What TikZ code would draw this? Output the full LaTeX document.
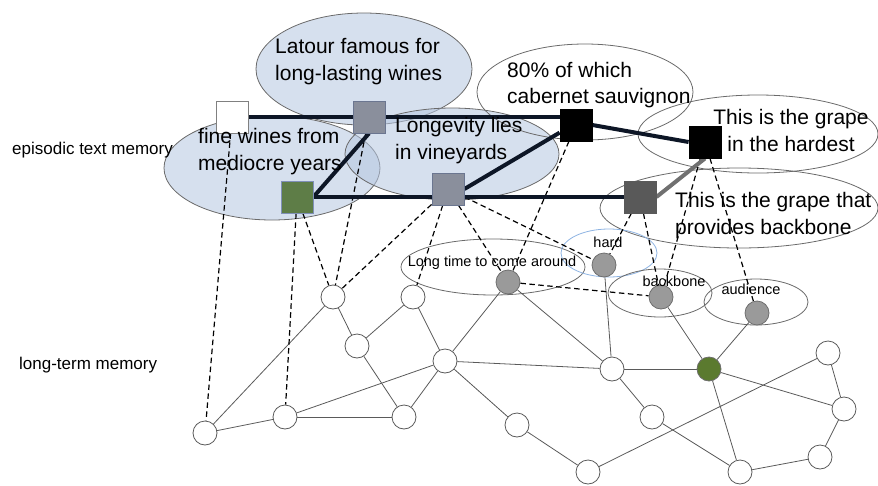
\documentclass[tikz,border=0pt]{standalone}
\usepackage{fontspec}
\setmainfont{Liberation Sans}
\definecolor{ellf}{HTML}{B5C6E0}
\definecolor{elb}{HTML}{6A6A6A}
\definecolor{thk}{HTML}{0D1626}
\definecolor{latf}{HTML}{8A8F9C}
\definecolor{latb}{HTML}{6B7690}
\definecolor{grnf}{HTML}{5E7D47}
\definecolor{grnb}{HTML}{8090B8}
\definecolor{bbsf}{HTML}{595959}
\definecolor{edgec}{HTML}{5A5A5A}
\definecolor{gcf}{HTML}{9A9A9A}
\definecolor{gcb}{HTML}{6E6E6E}
\definecolor{grcf}{HTML}{5B7A2F}
\definecolor{hardb}{HTML}{8DB3E2}
\definecolor{thkgray}{HTML}{707070}
\pgfdeclarelayer{bglayer}
\pgfdeclarelayer{edgelayer}
\pgfsetlayers{bglayer,edgelayer,main}
\begin{document}
\begin{tikzpicture}[x=1pt,y=-1pt,
  sq/.style={draw, minimum size=32pt, inner sep=0pt, line width=0.8pt},
  wc/.style={circle, draw=edgec, fill=white, minimum size=24pt, inner sep=0pt, line width=0.8pt},
  gc/.style={circle, draw=gcb, fill=gcf, minimum size=24pt, inner sep=0pt, line width=0.8pt},
  bigtxt/.style={font=\fontsize{21}{26.5}\selectfont, align=left, inner sep=0pt, anchor=west},
  smtxt/.style={font=\fontsize{14.5}{17}\selectfont, inner sep=0pt},
  sidetxt/.style={font=\fontsize{17}{20}\selectfont, inner sep=0pt, anchor=west},
  thk line/.style={line width=4pt, draw=thk},
  dsh/.style={dash pattern=on 5.5pt off 3.5pt, line width=1.2pt, draw=black},
  edge line/.style={line width=0.8pt, draw=edgec},
  fel/.style={draw=elb, line width=0.8pt, fill=ellf, fill opacity=0.55},
  oel/.style={draw=elb, line width=0.8pt}
]
\useasboundingbox (0,0) rectangle (878,485);

% ---- ellipses (background layer) ----
\begin{pgfonlayer}{bglayer}
\draw[fel] (364,69) ellipse [x radius=108, y radius=56];
\draw[fel] (272,168) ellipse [x radius=108, y radius=52];
\draw[fel] (452,154) ellipse [x radius=107, y radius=46];
\draw[oel] (585,92) ellipse [x radius=108, y radius=48];
\draw[oel] (758,134) ellipse [x radius=120, y radius=39];
\draw[oel] (739,208) ellipse [x radius=139, y radius=40];
\draw[oel] (493,267) ellipse [x radius=92, y radius=28];
\draw[draw=hardb, line width=0.8pt] (609,253) ellipse [x radius=48, y radius=24];
\draw[oel] (660,293) ellipse [x radius=52, y radius=24];
\draw[oel] (756,302) ellipse [x radius=52, y radius=23];
\end{pgfonlayer}

% ---- long-term memory nodes ----
\node[wc] (A) at (333,297) {};
\node[wc] (B) at (413,297) {};
\node[wc] (C) at (357,346) {};
\node[wc] (D) at (445,361) {};
\node[wc] (E) at (285,417) {};
\node[wc] (F) at (404,417) {};
\node[wc] (G) at (205,433) {};
\node[wc] (I) at (612,369) {};
\node[wc] (K) at (517,425) {};
\node[wc] (L) at (652,417) {};
\node[wc] (M) at (588,472) {};
\node[wc] (N) at (740,472) {};
\node[wc] (O) at (828,353) {};
\node[wc] (P) at (844,409) {};
\node[wc] (Q) at (820,457) {};
\node[circle, draw=gcb, fill=grcf, minimum size=24pt, inner sep=0pt, line width=0.8pt] (grc) at (709,369) {};
\node[gc] (lt) at (508,282) {};
\node[gc] (hd) at (604,265) {};
\node[gc] (bb) at (661,297) {};
\node[gc] (au) at (757,313) {};

% ---- episodic squares ----
\node[sq, draw=gray, fill=white] (wht) at (232,117) {};
\node[sq, draw=latb, fill=latf] (lat) at (369,117) {};
\node[sq, draw=grnb, fill=grnf] (grn) at (297,197) {};
\node[sq, draw=latb, fill=latf] (lon) at (448,189) {};
\node[sq, draw=black, fill=black] (blk) at (576,125) {};
\node[sq, draw=black, fill=black] (hrd) at (705,142) {};
\node[sq, draw=bbsf, fill=bbsf] (bbs) at (640,197) {};

\begin{pgfonlayer}{edgelayer}
% ---- network edges ----
\foreach \a/\b in {G/A,G/E,E/D,E/F,A/C,C/B,C/F,F/D,B/D,D/lt,D/I,D/K,lt/I,hd/I,I/grc,I/L,L/N,K/M,M/O,grc/au,grc/bb,grc/N,grc/P,O/P,P/Q,Q/N}
  \draw[edge line] (\a) -- (\b);
% ---- dashed links ----
\foreach \a/\b in {wht/G,grn/E,grn/A,lat/A,lon/A,lon/B,lon/lt,lon/hd,blk/lt,bbs/hd,bbs/bb,hrd/bb,hrd/au,lt/bb}
  \draw[dsh] (\a) -- (\b);
% ---- thick links ----
\draw[thk line] (wht.east) -- (wht.east -| blk.west);
\draw[thk line] (lat.south) -- (grn.east);
\draw[thk line] (grn.east) -- (bbs.west);
\draw[thk line] (lon.east) -- (blk.-155);
\draw[thk line] (blk.east) -- (hrd.west);
\draw[line width=4pt, draw=thkgray] (bbs.east) -- (hrd.south);
\end{pgfonlayer}

% ---- texts ----
\node[bigtxt] (tlat) at (275,61.5) {Latour famous for\\long-lasting wines};
\node[bigtxt] (tfin) at (198,151.5) {fine wines from\\mediocre years};
\node[bigtxt] (tlon) at (395,140.5) {Longevity lies\\in vineyards};
\node[bigtxt] (tcab) at (507,85) {80\% of which\\cabernet sauvignon};
\node[bigtxt, align=center, anchor=center] (thrd) at (791,130.5) {This is the grape\\in the hardest};
\node[bigtxt] (tbbs) at (675,215.5) {This is the grape that\\provides backbone};
\node[smtxt] (tlt) at (492,263) {Long time to come around};
\node[smtxt] (thd) at (608,242) {hard};
\node[smtxt] (tbb) at (674,281) {backbone};
\node[smtxt] (tau) at (751,289) {audience};
\node[sidetxt] (lep) at (12,150) {episodic text memory};
\node[sidetxt] (llt) at (19,365) {long-term memory};
\end{tikzpicture}
\end{document}
